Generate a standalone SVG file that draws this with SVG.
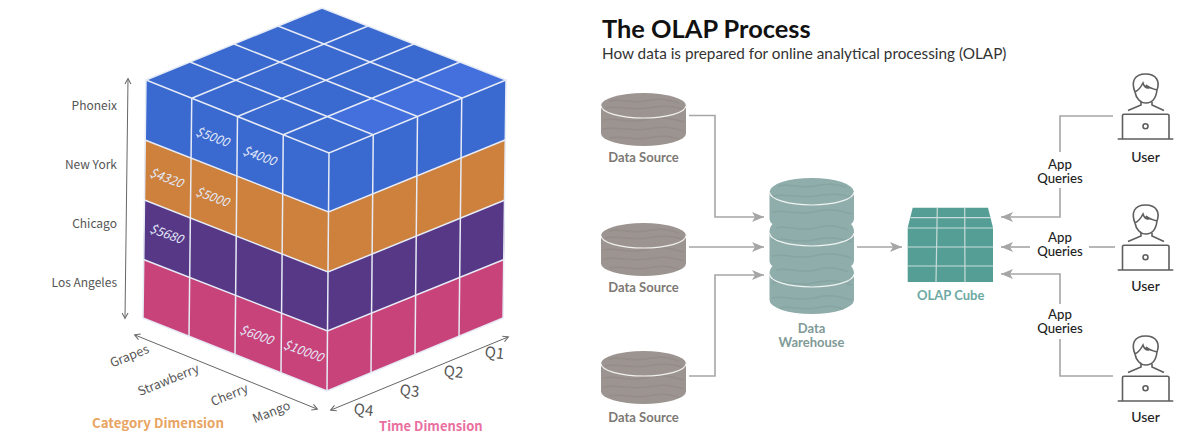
<svg xmlns="http://www.w3.org/2000/svg" width="1200" height="444" viewBox="0 0 1200 444">
<style>
text{font-family:"Noto Sans CJK SC","Noto Sans",sans-serif}
.r text,text.r{font-family:Lato,"Noto Sans",sans-serif}
.grid{fill:none;stroke:#e6ebf6;stroke-width:1.5}
.axis{fill:none;stroke:#666;stroke-width:1;marker-start:url(#o);marker-end:url(#o)}
.lab{font-size:12px;fill:#555}
.labm{font-size:12.5px;fill:#555;text-anchor:middle}
.val{font-size:12.5px;font-style:italic;text-anchor:middle;fill:#e3e8f8}
.q{font-size:15px;fill:#555;text-anchor:middle}
.dim{font-size:13.3px;font-weight:700}
.con{fill:none;stroke:#a6a6a6;stroke-width:1.6}
.arr{marker-end:url(#a)}
.ds{font-size:13px;font-weight:700;fill:#7d7874;text-anchor:middle}
.wh{font-size:13px;font-weight:700;fill:#7f9a97;text-anchor:middle}
.aq{font-size:13.2px;font-weight:500;fill:#222;text-anchor:middle}
.u{font-size:14px;font-weight:500;fill:#222;text-anchor:middle}
.ic{fill:none;stroke:#5e5e5e;stroke-width:1.6}
.cl{fill:none;stroke:#c9dcd9;stroke-width:1.2}
.wave{fill:none;stroke-width:1.5;stroke-opacity:.4}
</style>
<defs>
<marker id="a" markerUnits="userSpaceOnUse" markerWidth="13" markerHeight="11" refX="12" refY="5.5" orient="auto"><path d="M0,0.5 L12,5.5 L0,10.5 L3,5.5 Z" fill="#a6a6a6"/></marker>
<marker id="o" markerUnits="userSpaceOnUse" markerWidth="8" markerHeight="8" refX="6" refY="4" orient="auto-start-reverse"><path d="M1,1 L6.5,4 L1,7" fill="none" stroke="#666" stroke-width="1"/></marker>
<g id="dsc">
<path d="M0,12.5 A42.5,12.5 0 0 1 85,12.5 V40.5 A42.5,12.5 0 0 1 0,40.5 Z" fill="#9c9490"/>
<g class="wave" stroke="#8b837f">
<path d="M8,8 C20,5 30,11 44,8 S66,6 78,10"/>
<path d="M4,15 C18,12 30,18 46,15 S70,13 81,16"/>
<path d="M2,27 C16,24 28,31 44,27 S68,25 83,29"/>
<path d="M2,36 C18,33 30,39 46,36 S70,34 83,38"/>
<path d="M8,45 C20,42 32,48 46,45 S66,43 78,46"/>
</g>
<path d="M0,12.5 A42.5,12.5 0 0 0 85,12.5" fill="none" stroke="#f2f2f0" stroke-width="1.2"/>
</g>
<g id="user">
<path class="ic" d="M1135,92 C1131,82 1134,74 1145.5,74 C1157,74 1160,82 1157,90 C1153,89 1149,88 1146,85 L1148,88 C1146,88 1144,86 1143,83 C1141,87 1139,90 1135,92 C1136,98 1140,103 1146,103 C1152,103 1156,98 1157,90"/>
<path class="ic" d="M1141,102 V105 L1128,110.5 M1152,102 V105 L1164,110.5"/>
<path class="ic" d="M1122.5,139 V115.5 Q1122.5,114.3 1124,114.3 H1167.5 Q1169,114.3 1169,115.5 V139 M1117.7,139 H1173.3"/>
<circle class="ic" cx="1145.5" cy="126.2" r="2.5"/>
</g>
</defs>
<rect width="1200" height="444" fill="#fff"/>

<g id="olap-cube-3d">
<polygon points="322,8 146,80 329,153 506,80" fill="#3a69cf"/>
<polygon points="460,62 506,80 374,134 328,116" fill="#4470dd"/>
<polygon points="146,80 329,153 506,80 505,140 328.5,212 145,140" fill="#3a69cf"/>
<polygon points="145,140 328.5,212 505,140 505,200 328,272 144.5,200" fill="#cd813c"/>
<polygon points="144.5,200 328,272 505,200 504,259.5 327.5,331 143.5,259.5" fill="#563887"/>
<polygon points="143.5,259.5 327.5,331 504,259.5 503,318 327,391 143,318" fill="#c9437b"/>
<path class="grid" d="M322,8 L146,80 L329,153 L506,80 Z M278,26 L462,98 M234,44 L417.5,116.5 M190,62 L373.25,134.75 M368,26 L191.75,98.25 M414,44 L237.5,116.5 M460,62 L283.25,134.75"/>
<path class="grid" d="M145,140 L328.5,212 L505,140 M144.5,200 L328,272 L505,200 M143.5,259.5 L327.5,331 L504,259.5"/>
<path class="grid" d="M146,80 L143,318 L327,391 L503,318 L506,80 M329,153 L327,391 M191.75,98.25 L189,336.25 M237.5,116.5 L235,354.5 M283.25,134.75 L281,372.75 M373.25,134.75 L371,372.75 M417.5,116.5 L415,354.5 M461.75,98.25 L459,336.25"/>
<text class="val" transform="translate(211,141) rotate(20)">$5000</text>
<text class="val" transform="translate(258,160) rotate(20)">$4000</text>
<text class="val" transform="translate(165,182) rotate(20)">$4320</text>
<text class="val" transform="translate(211,201) rotate(20)">$5000</text>
<text class="val" transform="translate(165,238) rotate(20)">$5680</text>
<text class="val" transform="translate(255,339) rotate(20)">$6000</text>
<text class="val" transform="translate(302,355) rotate(20)">$10000</text>
</g>

<g id="axes">
<path class="axis" d="M128,79 L125,318"/>
<path class="axis" d="M135,335 L317,409"/>
<path class="axis" d="M508,337 L331,410"/>
<text class="lab" x="117" y="110" text-anchor="end">Phoneix</text>
<text class="lab" x="117" y="169" text-anchor="end">New York</text>
<text class="lab" x="117" y="228" text-anchor="end">Chicago</text>
<text class="lab" x="117" y="287" text-anchor="end">Los Angeles</text>
<text class="labm" transform="translate(131,360) rotate(-22)">Grapes</text>
<text class="labm" transform="translate(170,384) rotate(-22)">Strawberry</text>
<text class="labm" transform="translate(231,399) rotate(-22)">Cherry</text>
<text class="labm" transform="translate(273,416) rotate(-22)">Mango</text>
<text class="q" transform="translate(494,358) rotate(6)">Q1</text>
<text class="q" transform="translate(453,377) rotate(6)">Q2</text>
<text class="q" transform="translate(409,396) rotate(6)">Q3</text>
<text class="q" transform="translate(363,415) rotate(6)">Q4</text>
<text class="dim" x="92" y="428" fill="#e8a461">Category Dimension</text>
<text class="dim" x="379" y="431" fill="#ea6f9f" style="font-size:13px">Time Dimension</text>
</g>

<g id="title" class="r">
<text x="602" y="38" font-size="25.4" font-weight="700" fill="#111">The OLAP Process</text>
<text x="602" y="59" font-size="15.3" fill="#333">How data is prepared for online analytical processing (OLAP)</text>
</g>

<g id="connectors">
<path class="con arr" d="M689,115.5 H715 V217 H764"/>
<path class="con arr" d="M689,247 H764"/>
<path class="con arr" d="M689,376 H715 V275 H764"/>
<path class="con arr" d="M857,247 H902"/>
<path class="con arr" d="M1113,116 H1060 V152 M1060,188 V217 H1001"/>
<path class="con arr" d="M1030,247 H1001"/>
<path class="con" d="M1115,247 H1089"/>
<path class="con" d="M1113,376 H1060 V339"/>
<path class="con arr" d="M1060,304 V274 H1001"/>
</g>

<g id="source-1" class="r"><use href="#dsc" x="601" y="93"/><text class="ds" x="643.5" y="162">Data Source</text></g>
<g id="source-2" class="r"><use href="#dsc" x="601" y="223"/><text class="ds" x="643.5" y="292">Data Source</text></g>
<g id="source-3" class="r"><use href="#dsc" x="601" y="351"/><text class="ds" x="643.5" y="422">Data Source</text></g>

<g id="warehouse" class="r">
<path d="M769.5,192 A42.25,14 0 0 1 854,192 V218 Q854,222 851,224 Q854,227 854,232 V260 Q854,264 851,266 Q854,269 854,274 V300 A42.25,14 0 0 1 769.5,300 V274 Q769.5,269 772.5,266 Q769.5,264 769.5,260 V232 Q769.5,227 772.5,224 Q769.5,222 769.5,218 Z" fill="#8fadaa"/>
<g class="wave" stroke="#7b9c99">
<path d="M778,186 C790,183 800,189 814,186 S836,184 846,187"/>
<path d="M773,196 C788,193 800,199 816,196 S840,194 851,197"/>
<path d="M772,212 C786,209 798,216 814,212 S838,210 852,214"/>
<path d="M776,228 C788,225 802,232 816,228 S838,226 848,230"/>
<path d="M772,240 C786,237 798,244 814,240 S838,238 852,242"/>
<path d="M772,256 C786,253 798,260 814,256 S838,254 852,258"/>
<path d="M776,270 C788,267 802,274 816,270 S838,268 848,272"/>
<path d="M772,283 C786,280 798,287 814,283 S838,281 852,285"/>
<path d="M772,298 C786,295 798,302 814,298 S838,296 852,300"/>
<path d="M780,308 C792,305 802,311 816,308 S834,306 844,309"/>
</g>
<path d="M769.5,192 A42.25,13 0 0 0 854,192 M769.5,233 A42.25,13 0 0 0 854,233 M769.5,274 A42.25,13 0 0 0 854,274" fill="none" stroke="#f0f4f3" stroke-width="1.2"/>
<text class="wh" x="811.5" y="333">Data</text>
<text class="wh" x="811.5" y="347">Warehouse</text>
</g>

<g id="olap-cube" class="r">
<path d="M912.7,207.7 H988 L993,227.7 V282 H907.7 V227.7 Z" fill="#559e96"/>
<path class="cl" d="M910.5,217.7 H990.5 M907.7,228 H993 M907.7,247 H993 M907.7,266 H993 M937.3,207.7 L936,282 M964.7,207.7 L965,282"/>
<text class="wh" x="950.7" y="300" style="fill:#6da9a3">OLAP Cube</text>
</g>

<g id="app-queries" class="r">
<text class="aq" x="1060" y="169">App</text><text class="aq" x="1060" y="183">Queries</text>
<text class="aq" x="1060" y="242">App</text><text class="aq" x="1060" y="256">Queries</text>
<text class="aq" x="1060" y="318.5">App</text><text class="aq" x="1060" y="332.5">Queries</text>
</g>

<g id="user-1" class="r"><use href="#user"/><text class="u" x="1145.5" y="162">User</text></g>
<g id="user-2" class="r"><use href="#user" y="131"/><text class="u" x="1145.5" y="291">User</text></g>
<g id="user-3" class="r"><use href="#user" y="262"/><text class="u" x="1145.5" y="422">User</text></g>
</svg>
